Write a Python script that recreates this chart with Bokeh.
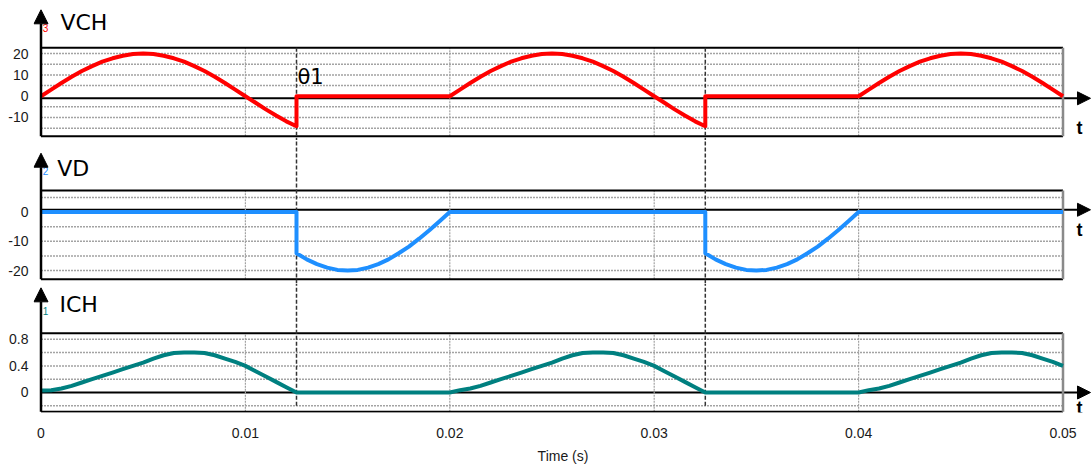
from bokeh.plotting import figure
from bokeh.models import Range1d, Arrow, NormalHead, FixedTicker, ColumnDataSource
from bokeh.layouts import column
from bokeh.embed import file_html
from bokeh.resources import INLINE
from bokeh.core.properties import value

# ---------------- data ----------------
t_ms = [0, 0.5, 1, 1.5, 2, 2.5, 3, 3.5, 4, 4.5, 5, 5.5, 6, 6.5, 7, 7.5, 8, 8.5, 9, 9.5, 10, 10.5, 11, 11.5, 12, 12.5,
        12.5,
        13, 13.5, 14, 14.5, 15, 15.5, 16, 16.5, 17, 17.5, 18, 18.5, 19, 19.5, 20,
        20.5, 21, 21.5, 22, 22.5, 23, 23.5, 24, 24.5, 25, 25.5, 26, 26.5, 27, 27.5, 28, 28.5, 29, 29.5, 30, 30.5, 31, 31.5, 32, 32.5,
        32.5,
        33, 33.5, 34, 34.5, 35, 35.5, 36, 36.5, 37, 37.5, 38, 38.5, 39, 39.5, 40,
        40.5, 41, 41.5, 42, 42.5, 43, 43.5, 44, 44.5, 45, 45.5, 46, 46.5, 47, 47.5, 48, 48.5, 49, 49.5, 50]

vch = [0.0, 3.1, 6.2, 9.1, 11.8, 14.1, 16.2, 17.8, 19.0, 19.8, 20.0, 19.8, 19.0, 17.8, 16.2, 14.1, 11.8, 9.1, 6.2, 3.1, 0.0, -3.1, -6.2, -9.1, -11.8, -14.1,
       0.0,
       0.0, 0.0, 0.0, 0.0, 0.0, 0.0, 0.0, 0.0, 0.0, 0.0, 0.0, 0.0, 0.0, 0.0, 0.0,
       3.1, 6.2, 9.1, 11.8, 14.1, 16.2, 17.8, 19.0, 19.8, 20.0, 19.8, 19.0, 17.8, 16.2, 14.1, 11.8, 9.1, 6.2, 3.1, 0.0, -3.1, -6.2, -9.1, -11.8, -14.1,
       0.0,
       0.0, 0.0, 0.0, 0.0, 0.0, 0.0, 0.0, 0.0, 0.0, 0.0, 0.0, 0.0, 0.0, 0.0, 0.0,
       3.1, 6.2, 9.1, 11.8, 14.1, 16.2, 17.8, 19.0, 19.8, 20.0, 19.8, 19.0, 17.8, 16.2, 14.1, 11.8, 9.1, 6.2, 3.1, 0.0]

vd = [0.0, 0.0, 0.0, 0.0, 0.0, 0.0, 0.0, 0.0, 0.0, 0.0, 0.0, 0.0, 0.0, 0.0, 0.0, 0.0, 0.0, 0.0, 0.0, 0.0, 0.0, 0.0, 0.0, 0.0, 0.0, 0.0,
      -14.1,
      -16.2, -17.8, -19.0, -19.8, -20.0, -19.8, -19.0, -17.8, -16.2, -14.1, -11.8, -9.1, -6.2, -3.1, 0.0,
      0.0, 0.0, 0.0, 0.0, 0.0, 0.0, 0.0, 0.0, 0.0, 0.0, 0.0, 0.0, 0.0, 0.0, 0.0, 0.0, 0.0, 0.0, 0.0, 0.0, 0.0, 0.0, 0.0, 0.0, 0.0,
      -14.1,
      -16.2, -17.8, -19.0, -19.8, -20.0, -19.8, -19.0, -17.8, -16.2, -14.1, -11.8, -9.1, -6.2, -3.1, 0.0,
      0.0, 0.0, 0.0, 0.0, 0.0, 0.0, 0.0, 0.0, 0.0, 0.0, 0.0, 0.0, 0.0, 0.0, 0.0, 0.0, 0.0, 0.0, 0.0, 0.0]

ich = [0.03, 0.035, 0.06, 0.10, 0.15, 0.20, 0.25, 0.30, 0.35, 0.40, 0.45, 0.51, 0.56, 0.595, 0.60, 0.60, 0.595, 0.56, 0.51, 0.46, 0.40, 0.32, 0.24, 0.16, 0.08, 0.0,
       0.0,
       0.0, 0.0, 0.0, 0.0, 0.0, 0.0, 0.0, 0.0, 0.0, 0.0, 0.0, 0.0, 0.0, 0.0, 0.0,
       0.035, 0.06, 0.10, 0.15, 0.20, 0.25, 0.30, 0.35, 0.40, 0.45, 0.51, 0.56, 0.595, 0.60, 0.60, 0.595, 0.56, 0.51, 0.46, 0.40, 0.32, 0.24, 0.16, 0.08, 0.0,
       0.0,
       0.0, 0.0, 0.0, 0.0, 0.0, 0.0, 0.0, 0.0, 0.0, 0.0, 0.0, 0.0, 0.0, 0.0, 0.0,
       0.035, 0.06, 0.10, 0.15, 0.20, 0.25, 0.30, 0.35, 0.40, 0.45, 0.51, 0.56, 0.595, 0.60, 0.60, 0.595, 0.56, 0.51, 0.46, 0.40]

theta_t = [0.0125, 0.0325]          # firing instants (dashed markers)
x_ticks = [0, 0.01, 0.02, 0.03, 0.04, 0.05]
x_tick_labels = ["0", "0.01", "0.02", "0.03", "0.04", "0.05"]
x_grid = [0.01, 0.02, 0.03, 0.04]

vch_ticks = [-10, 0, 10, 20]
vch_tick_labels = ["-10", "0", "10", "20"]
vch_grid = [-15, -10, -5, 5, 10, 15, 20]

vd_ticks = [-20, -10, 0]
vd_tick_labels = ["-20", "-10", "0"]
vd_grid = [-20, -15, -10, -5, 5]

ich_ticks = [0, 0.4, 0.8]
ich_tick_labels = ["0", "0.4", "0.8"]
ich_grid = [-0.2, 0.2, 0.4, 0.6, 0.8]

t = [v / 1000.0 for v in t_ms]
src = ColumnDataSource(dict(t=t, vch=vch, vd=vd, ich=ich))

# ---------------- layout helpers ----------------
T_END = 0.05
X_ARROW_TIP = 0.051345
xr = Range1d(-0.000367, 0.051443)
TICK_FONT = "Liberation Sans Narrow, Liberation Sans, Arial"
GRID_COL = "#a3a3a3"


def style_axis(ax, ticks, labels, standoff, size="14px"):
    ax.ticker = FixedTicker(ticks=ticks)
    ax.major_label_overrides = dict(zip(ticks, labels))
    ax.axis_line_color = None
    ax.major_tick_line_color = None
    ax.minor_tick_line_color = None
    ax.major_tick_out = 0
    ax.major_tick_in = 0
    ax.minor_tick_out = 0
    ax.minor_tick_in = 0
    ax.major_label_standoff = standoff
    ax.major_label_text_font = TICK_FONT
    ax.major_label_text_font_size = size
    ax.major_label_text_color = "#1a1a1a"


def panel(fh, yr, box, zero_line, tip, ticks, labels, grid, key, color,
          title, title_x, title_y, num, num_y, t_y, dash_span, bottom_axis=False):
    p = figure(frame_width=1059, frame_height=fh, x_range=xr, y_range=Range1d(*yr),
               output_backend="svg", toolbar_location=None,
               x_axis_location="below" if bottom_axis else None,
               min_border_left=33, min_border_right=0, min_border_top=0, min_border_bottom=0)
    p.outline_line_color = None
    p.grid.visible = False
    p.background_fill_color = "white"
    p.border_fill_color = "white"

    style_axis(p.yaxis[0], ticks, labels, 5)

    if bottom_axis:
        xa = p.xaxis[0]
        style_axis(xa, x_ticks, x_tick_labels, 15)
        xa.axis_label = "Time (s)"
        xa.axis_label_standoff = 7
        xa.axis_label_text_font = TICK_FONT
        xa.axis_label_text_font_size = "14px"
        xa.axis_label_text_font_style = "normal"
        xa.axis_label_text_color = "#1a1a1a"

    lo, hi = box
    # dotted grid
    p.segment(x0=[0] * len(grid), x1=[T_END] * len(grid), y0=grid, y1=grid,
              line_color=GRID_COL, line_width=1.5, line_dash="2 1")
    p.segment(x0=x_grid, x1=x_grid, y0=[lo] * len(x_grid), y1=[hi] * len(x_grid),
              line_color=GRID_COL, line_width=1.2, line_dash="2 1")
    # box
    p.segment(x0=[0, 0], x1=[T_END, T_END], y0=[lo, hi], y1=[lo, hi],
              line_color="black", line_width=2)
    p.segment(x0=[T_END], x1=[T_END], y0=[lo], y1=[hi], line_color="#8a8a8a", line_width=2.5)
    # firing-instant dashed markers
    p.segment(x0=theta_t, x1=theta_t, y0=[dash_span[0]] * 2, y1=[dash_span[1]] * 2,
              line_color="#333333", line_width=1.5, line_dash="4 2")
    # horizontal time axis with arrow
    p.add_layout(Arrow(end=NormalHead(size=13, fill_color="black", line_color="black"),
                       x_start=0, y_start=zero_line, x_end=X_ARROW_TIP, y_end=zero_line,
                       line_color="black", line_width=2, level="underlay"))
    # curve
    p.line(x="t", y=key, source=src, line_color=color, line_width=4, line_join="round")
    # vertical axis arrow
    p.add_layout(Arrow(end=NormalHead(size=14, fill_color="black", line_color="black"),
                       x_start=0, y_start=lo, x_end=0, y_end=tip,
                       line_color="black", line_width=2.5))
    # texts
    p.text(x=[title_x], y=[title_y], text=[title], text_font=value("DejaVu Sans"),
           text_font_size="22px", text_baseline="middle", text_align="left", text_color="black")
    p.text(x=[0.00008], y=[num_y], text=[num], text_font=value("Liberation Sans"),
           text_font_size="10px", text_baseline="middle", text_align="left", text_color=color)
    p.text(x=[0.05081], y=[t_y], text=["t"], text_font=value("Liberation Sans"),
           text_font_size="18px", text_font_style="bold", text_baseline="middle",
           text_align="center", text_color="black")
    return p


p1 = panel(140, (-20.8, 44.93), (-18.8, 22.72), -1.0, 40.56, vch_ticks, vch_tick_labels, vch_grid,
           "vch", "#ff0000", "VCH", 0.00095, 34.6, "3", 32.0, -14.7, (22.72, -20.8))
p1.text(x=[0.01255], y=[8.8], text=["θ1"], text_font=value("DejaVu Sans"), text_font_size="21px",
        text_baseline="middle", text_align="left", text_color="black")

p2 = panel(143, (-24.45, 24.52), (-22.98, 7.4), 0.8, 20.17, vd_ticks, vd_tick_labels, vd_grid,
           "vd", "#1e8fff", "VD", 0.00079, 15.1, "2", 14.2, -6.3, (-24.45, 24.52))

p3 = panel(129, (-0.3008, 1.639), (-0.29, 0.892), 0.0, 1.574, ich_ticks, ich_tick_labels, ich_grid,
           "ich", "#008080", "ICH", 0.0009, 1.316, "1", 1.218, -0.24, (-0.2, 1.639), bottom_axis=True)

layout = column(p1, p2, p3, spacing=0)
open("out.html", "w").write(file_html(layout, INLINE))
